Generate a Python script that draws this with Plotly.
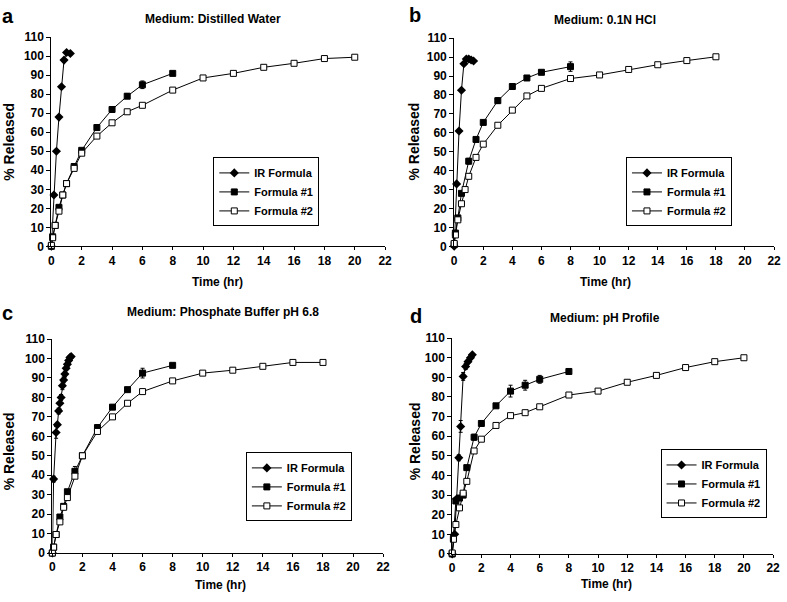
import plotly.graph_objects as go

W, H = 787, 602
FONT = "Liberation Sans, Arial, sans-serif"

series_names = ["IR Formula", "Formula #1", "Formula #2"]
panel_titles = ["Medium: Distilled Water", "Medium: 0.1N HCl",
                "Medium: Phosphate Buffer pH 6.8", "Medium: pH Profile"]
panel_letters = ["a", "b", "c", "d"]
x_ticks = list(range(0, 23, 2))
y_ticks = list(range(0, 111, 10))

# ---- Panel a: Distilled water
a_ir_t = [0, 0.167, 0.333, 0.5, 0.667, 0.833, 1.0, 1.25]
a_ir_y = [0, 27, 50, 68, 84, 98, 102, 101.5]
a_f1_t = [0, 0.083, 0.25, 0.5, 0.75, 1, 1.5, 2, 3, 4, 5, 6, 8]
a_f1_y = [0, 5, 11, 20.5, 27, 33, 42, 50.5, 62.5, 72, 79, 85, 91]
a_f1_e = [0, 0, 0, 0, 0, 0, 0, 0, 1, 0.8, 1.2, 2, 1]
a_f2_t = [0, 0.083, 0.25, 0.5, 0.75, 1, 1.5, 2, 3, 4, 5, 6, 8, 10, 12, 14, 16, 18, 20]
a_f2_y = [0.5, 4.5, 11, 18.5, 27, 33, 41, 49, 58, 65, 70.8, 74.2, 82.2, 88.6, 91, 94.2, 96.3, 98.8, 99.5]

# ---- Panel b: 0.1N HCl
b_ir_t = [0, 0.167, 0.333, 0.5, 0.667, 0.833, 1.0, 1.167, 1.333]
b_ir_y = [0, 33, 61, 82.5, 96.5, 99, 99, 98.5, 98]
b_f1_t = [0, 0.083, 0.25, 0.5, 1, 1.5, 2, 3, 4, 5, 6, 8]
b_f1_y = [1, 7, 15, 28, 45, 56.5, 65.5, 77, 84.5, 89, 92, 95]
b_f1_e = [0, 0, 0, 0, 1.5, 0.5, 1, 1.5, 1.5, 1, 1, 2.5]
b_f2_t = [0, 0.083, 0.25, 0.5, 0.75, 1, 1.5, 2, 3, 4, 5, 6, 8, 10, 12, 14, 16, 18]
b_f2_y = [1.5, 6, 14, 22.5, 30, 37, 47, 54, 64, 72, 79.5, 83.5, 88.7, 90.6, 93.5, 96, 98.2, 100.2]

# ---- Panel c: Phosphate buffer pH 6.8
c_ir_t = [0, 0.083, 0.25, 0.333, 0.417, 0.5, 0.583, 0.667, 0.75, 0.833, 0.917, 1.0, 1.083, 1.167, 1.25]
c_ir_y = [0, 38, 62, 66, 73, 77, 80, 86, 89, 92, 95, 97, 99, 100.5, 101]
c_ir_e = [0, 1.5, 3, 0, 1.5, 3, 1.5, 2, 1.5, 1.5, 1, 1, 0.5, 0.5, 0]
c_f1_t = [0, 0.083, 0.25, 0.5, 0.75, 1, 1.5, 2, 3, 4, 5, 6, 8]
c_f1_y = [0, 3, 9.5, 18.5, 24, 31.5, 42, 50, 64.5, 75, 84, 92.5, 96.5]
c_f1_e = [0, 0, 0, 1, 0, 1, 2.5, 1, 1.5, 1, 1, 2.5, 0.5]
c_f2_t = [0, 0.083, 0.25, 0.5, 0.75, 1, 1.5, 2, 3, 4, 5, 6, 8, 10, 12, 14, 16, 18]
c_f2_y = [0, 3, 9.5, 16, 23.5, 28.5, 39.5, 50, 62.5, 70, 77, 83, 88.5, 92.5, 94, 96, 98, 98]

# ---- Panel d: pH profile
d_ir_t = [0, 0.17, 0.3, 0.45, 0.58, 0.75, 0.92, 1.08, 1.25, 1.38]
d_ir_y = [0, 10, 28, 49, 65, 90.5, 95.5, 98, 100, 101.5]
d_ir_e = [0, 1, 1, 1.5, 3, 2, 1.5, 1, 1, 0.5]
d_f1_t = [0, 0.083, 0.25, 0.5, 0.75, 1, 1.5, 2, 3, 4, 5, 6, 8]
d_f1_y = [0, 8, 27, 28.5, 30, 44, 59.5, 66.5, 75.5, 83, 86, 89, 93]
d_f1_e = [0, 0, 0, 1, 1, 1, 1.5, 1, 1, 3, 2.5, 2, 0.5]
d_f2_t = [0, 0.083, 0.25, 0.5, 0.75, 1, 1.5, 2, 3, 4, 5, 6, 8, 10, 12, 14, 16, 18, 20]
d_f2_y = [0.5, 7.5, 15, 23.5, 31, 37, 52.5, 58.5, 65.5, 70.5, 72, 75, 81, 83, 87.5, 91, 95, 98, 100]

panels = [
    dict(ir=(a_ir_t, a_ir_y, None), f1=(a_f1_t, a_f1_y, a_f1_e), f2=(a_f2_t, a_f2_y, None)),
    dict(ir=(b_ir_t, b_ir_y, None), f1=(b_f1_t, b_f1_y, b_f1_e), f2=(b_f2_t, b_f2_y, None)),
    dict(ir=(c_ir_t, c_ir_y, c_ir_e), f1=(c_f1_t, c_f1_y, c_f1_e), f2=(c_f2_t, c_f2_y, None)),
    dict(ir=(d_ir_t, d_ir_y, d_ir_e), f1=(d_f1_t, d_f1_y, d_f1_e), f2=(d_f2_t, d_f2_y, None)),
]

# layout geometry in pixels: (x_left, x_right, y_top(110), y_bottom(0))
boxes = [(49, 387, 31, 245), (457, 781, 32, 245), (50, 385, 340, 559), (455, 780, 339, 560)]
legend_pos = [(213, 154), (631, 154), (246, 456), (666, 453)]
title_pos = [(213, 12), (610, 13), (223, 312), (610, 318)]
letter_pos = [(5, 9), (417, 8), (5, 313), (418, 316)]
ytitle_pos = [(6, 138), (416, 138), (6, 455), (417, 445)]
xtitle_pos = [(217, 282), (610, 282), (220, 592), (611, 591)]

styles = {
    "ir": dict(symbol="diamond", size=7, color="black", line=dict(color="black", width=0)),
    "f1": dict(symbol="square", size=6, color="black", line=dict(color="black", width=1)),
    "f2": dict(symbol="square", size=6, color="white", line=dict(color="black", width=1)),
}

fig = go.Figure()
layout = dict(width=W, height=H, margin=dict(l=0, r=0, t=0, b=0),
              paper_bgcolor="white", plot_bgcolor="white", showlegend=True,
              font=dict(family=FONT, color="black"))
annotations = []

for i, p in enumerate(panels):
    k = "" if i == 0 else str(i + 1)
    xl, xr, yt, yb = boxes[i]
    layout["xaxis" + k] = dict(domain=[xl / W, xr / W], range=[0, 22], anchor="y" + k,
                               tickvals=x_ticks, ticks="outside", ticklen=3, tickcolor="black",
                               showline=True, linecolor="black", linewidth=1, showgrid=False,
                               zeroline=False, fixedrange=True,
                               tickfont=dict(family=FONT, size=12, weight="bold", color="black"))
    layout["yaxis" + k] = dict(domain=[1 - yb / H, 1 - yt / H], range=[0, 110], anchor="x" + k,
                               tickvals=y_ticks, ticks="outside", ticklen=4, tickcolor="black",
                               showline=True, linecolor="black", linewidth=1, showgrid=False,
                               zeroline=False, fixedrange=True,
                               tickfont=dict(family=FONT, size=12, weight="bold", color="black"))
    lg = "legend" if i == 0 else "legend" + str(i + 1)
    lx, ly = legend_pos[i]
    layout[lg] = dict(x=lx / W, y=1 - ly / H, xanchor="left", yanchor="top",
                      bgcolor="white", bordercolor="black", borderwidth=1,
                      font=dict(family=FONT, size=11, weight="bold", color="black"),
                      itemwidth=30, tracegroupgap=0)
    for key, name in zip(["ir", "f1", "f2"], series_names):
        t, y, e = p[key]
        err = dict(type="data", array=e, visible=True, color="black", thickness=1, width=2) if e else None
        fig.add_trace(go.Scatter(x=t, y=y, name=name, mode="lines+markers",
                                 line=dict(color="black", width=1),
                                 marker=styles[key], error_y=err, cliponaxis=False,
                                 xaxis="x" + k, yaxis="y" + k, legend=lg))
    tx, ty = title_pos[i]
    annotations.append(dict(text=panel_titles[i], x=tx / W, y=1 - ty / H, xref="paper", yref="paper",
                            showarrow=False, xanchor="center", yanchor="middle",
                            font=dict(family=FONT, size=12, weight="bold", color="black")))
    px_, py_ = letter_pos[i]
    annotations.append(dict(text=panel_letters[i], x=px_ / W, y=1 - py_ / H, xref="paper", yref="paper",
                            showarrow=False, xanchor="center", yanchor="middle",
                            font=dict(family=FONT, size=20, weight="bold", color="black")))
    yx, yy = ytitle_pos[i]
    annotations.append(dict(text="% Released", x=yx / W, y=1 - yy / H, xref="paper", yref="paper",
                            showarrow=False, xanchor="center", yanchor="middle", textangle=-90,
                            font=dict(family=FONT, size=14, weight="bold", color="black")))
    xx, xy = xtitle_pos[i]
    annotations.append(dict(text="Time (hr)", x=xx / W, y=1 - xy / H, xref="paper", yref="paper",
                            showarrow=False, xanchor="center", yanchor="middle",
                            font=dict(family=FONT, size=12, weight="bold", color="black")))

layout["annotations"] = annotations
fig.update_layout(**layout)
fig.write_html("out.html", config={"displayModeBar": False},
               post_script="document.body.style.margin='0px';document.body.style.overflow='hidden';")
